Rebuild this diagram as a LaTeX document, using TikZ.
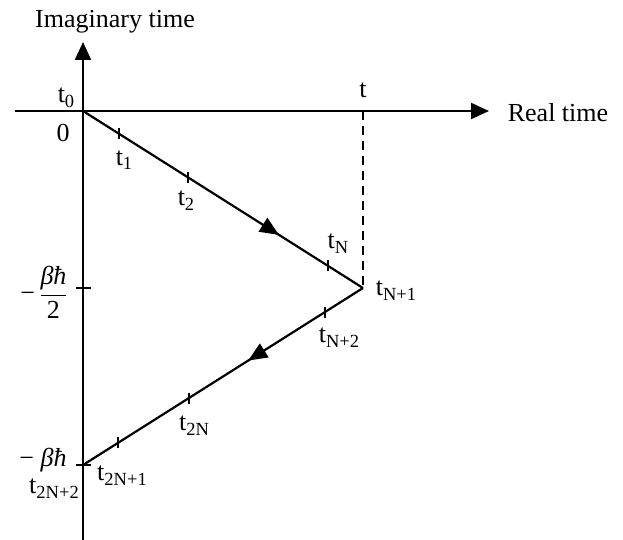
\documentclass[tikz,border=0pt]{standalone}
\usepackage{fontspec}
\setmainfont{Liberation Serif}
\usetikzlibrary{arrows.meta,decorations.markings}
\newcommand\tsb[1]{t\raisebox{-5pt}{\fontsize{18.5}{18.5}\selectfont #1}}
\begin{document}
\begin{tikzpicture}[x=1pt,y=-1pt,
  axis/.style={line width=2.2pt,-{Triangle[length=18pt,width=16pt]}},
  contour/.style={line width=2.2pt},
  tickmark/.style={line width=2pt},
  dashline/.style={line width=2.2pt,dash pattern=on 9pt off 6pt},
  lbl/.style={inner sep=0pt,anchor=base,font=\fontsize{26}{31}\selectfont},
  midarrow/.style={postaction=decorate,decoration={markings,
     mark=at position #1 with {\arrow{Triangle[length=19pt,width=16pt]}}}}
  ]
\useasboundingbox (0,0) rectangle (623,540);
% key points
\coordinate (O) at (83,111);
\coordinate (A) at (363,288);
\coordinate (B) at (83,465);
\coordinate (T) at (363,111);
\coordinate (xl) at (15,111);
\coordinate (xr) at (489,111);
\coordinate (yb) at (83,540);
\coordinate (yt) at (83,42);
\coordinate (hb) at (83,288);
% axes
\draw[axis] (xl) -- (xr);
\draw[axis] (yb) -- (yt);
% dashed
\draw[dashline] (T) -- (A);
% contour
\draw[contour,midarrow=0.70] (O) -- (A);
\draw[contour,midarrow=0.41] (A) -- (B);
% ticks on axis
\draw[tickmark] ([xshift=-7pt]hb) -- ([xshift=8pt]hb);
\draw[tickmark] ([xshift=-7pt]B) -- ([xshift=8pt]B);
% ticks on contour
\foreach \n/\x/\y in {p1/119/133.8, p2/188/177.4, pN/328/265.9,
                      q2/325/312, qN/189/398, q1/118/442.9}{
  \coordinate (\n) at (\x,\y);
  \draw[tickmark] ([yshift=-5.5pt]\n) -- ([yshift=5.5pt]\n);
}
% labels
\node[lbl] (ylab) at (115,28) {Imaginary time};
\node[lbl] (xlab) at (558,122) {Real time};
\node[lbl] (lt0) at (66,103) {\tsb{0}};
\node[lbl] (lzero) at (63,142) {0};
\node[lbl] (lt) at (363,98) {t};
\node[lbl] (lt1) at (124,165) {\tsb{1}};
\node[lbl] (lt2) at (186,205) {\tsb{2}};
\node[lbl] (ltN) at (338,248) {\tsb{N}};
\node[lbl] (ltN1) at (396,295) {\tsb{N+1}};
\node[lbl] (ltN2) at (339,342) {\tsb{N+2}};
\node[lbl] (lt2N) at (194,430) {\tsb{2N}};
\node[lbl] (lt2N1) at (122,480) {\tsb{2N+1}};
\node[lbl] (lt2N2) at (54,493) {\tsb{2N+2}};
\node[lbl] (lbh) at (43,466) {− \textit{βħ}};
\node[lbl,anchor=center] (lbh2) at (44,292) {−\,$\displaystyle{\hbox{\itshape βħ}\over\hbox{2}}$};
\end{tikzpicture}
\end{document}
